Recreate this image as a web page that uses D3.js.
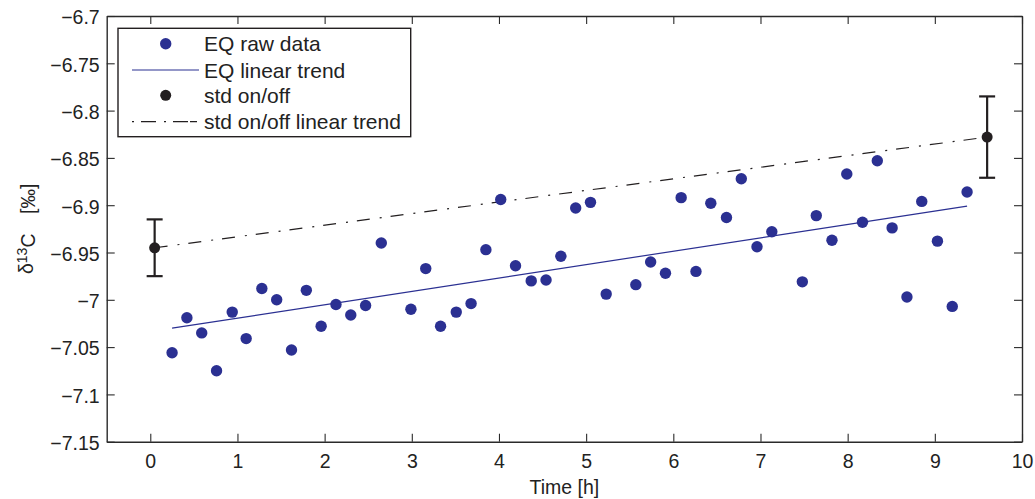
<!DOCTYPE html>
<html>
<head>
<meta charset="utf-8">
<script src="https://cdn.jsdelivr.net/npm/d3@7"></script>
<style>
  body { margin: 0; background: #fff; }
  svg { display: block; font-family: "Liberation Sans", Arial, sans-serif; }
</style>
</head>
<body>
<div id="chart"></div>
<script>
// EQ raw data: time [h] and delta 13C [permil]
const eqTime = [0.25, 0.42, 0.59, 0.76, 0.94, 1.10, 1.28, 1.45, 1.62, 1.79, 1.96, 2.13, 2.30, 2.47, 2.65,
                2.99, 3.16, 3.33, 3.51, 3.68, 3.85, 4.02, 4.19, 4.37, 4.54, 4.71, 4.88, 5.05, 5.23,
                5.57, 5.74, 5.91, 6.09, 6.26, 6.43, 6.61, 6.78, 6.96, 7.13,
                7.48, 7.64, 7.82, 7.99, 8.17, 8.34, 8.51, 8.68, 8.85, 9.03, 9.20, 9.37];
const eqDelta = [-7.056, -7.019, -7.035, -7.075, -7.013, -7.041, -6.988, -7.000, -7.053, -6.990, -7.028, -7.005, -7.016, -7.006, -6.940,
                 -7.010, -6.967, -7.028, -7.013, -7.004, -6.947, -6.894, -6.964, -6.980, -6.979, -6.954, -6.903, -6.897, -6.994,
                 -6.984, -6.960, -6.972, -6.892, -6.970, -6.898, -6.913, -6.872, -6.944, -6.928,
                 -6.981, -6.911, -6.937, -6.867, -6.918, -6.853, -6.924, -6.997, -6.896, -6.938, -7.007, -6.886];

// EQ linear trend end points
const eqTrendTime = [0.25, 9.37];
const eqTrendDelta = [-7.030, -6.901];

// std on/off with error bars
const stdTime = [0.05, 9.60];
const stdDelta = [-6.945, -6.828];
const stdErr = [0.030, 0.043];

// std on/off linear trend end points
const stdTrendTime = [0.05, 9.60];
const stdTrendDelta = [-6.945, -6.828];

const xTicks = [0, 1, 2, 3, 4, 5, 6, 7, 8, 9, 10];
const yTicks = [-7.15, -7.1, -7.05, -7, -6.95, -6.9, -6.85, -6.8, -6.75, -6.7];
const yTickLabels = ["\u22127.15", "\u22127.1", "\u22127.05", "\u22127", "\u22126.95", "\u22126.9", "\u22126.85", "\u22126.8", "\u22126.75", "\u22126.7"];

const legendLabels = ["EQ raw data", "EQ linear trend", "std on/off", "std on/off linear trend"];

const W = 1035, H = 499;
const margin = {top: 16, right: 13, bottom: 57.3, left: 106.7};
const blue = "#2b3092", dark = "#231f20", axisCol = "#2a2a2a";
const dashDot = "13,10,2,9";

const svg = d3.select("#chart").append("svg")
    .attr("width", W)
    .attr("height", H);

const x = d3.scaleLinear().domain([-0.5, 10]).range([margin.left, W - margin.right]);
const y = d3.scaleLinear().domain([-7.15, -6.7]).range([H - margin.bottom, margin.top]);

// axes (box with inward ticks)
svg.append("g")
    .attr("transform", `translate(0,${H - margin.bottom})`)
    .call(d3.axisBottom(x).tickValues(xTicks).tickSize(-8).tickSizeOuter(0).tickPadding(12.5).tickFormat(d3.format("d")));

svg.append("g")
    .attr("transform", `translate(0,${margin.top})`)
    .call(d3.axisTop(x).tickValues(xTicks).tickSize(-8).tickSizeOuter(0).tickFormat(""));

const yAxis = svg.append("g")
    .attr("transform", `translate(${margin.left},0)`)
    .call(d3.axisLeft(y).tickValues(yTicks).tickSize(-8).tickSizeOuter(0).tickPadding(7)
        .tickFormat((d, i) => yTickLabels[i]));

svg.append("g")
    .attr("transform", `translate(${W - margin.right},0)`)
    .call(d3.axisRight(y).tickValues(yTicks).tickSize(-8).tickSizeOuter(0).tickFormat(""));

svg.selectAll(".domain").attr("stroke", axisCol).attr("stroke-width", 1.4);
svg.selectAll(".tick line").attr("stroke", axisCol).attr("stroke-width", 1.1);
svg.selectAll(".tick text")
    .attr("fill", "#222")
    .style("font-size", "19.5px")
    .style("font-family", "'Liberation Sans', Arial, sans-serif");
yAxis.selectAll(".tick text").attr("dy", "0.4em");

// axis labels
svg.append("text")
    .attr("x", (margin.left + W - margin.right) / 2)
    .attr("y", 494)
    .attr("text-anchor", "middle")
    .attr("fill", "#222")
    .style("font-size", "19.5px")
    .text("Time [h]");

const yl = svg.append("text")
    .attr("transform", `translate(33,${(margin.top + H - margin.bottom) / 2}) rotate(-90)`)
    .attr("text-anchor", "middle")
    .attr("fill", "#222")
    .style("font-size", "19.5px");
yl.append("tspan").text("\u03b4");
yl.append("tspan").attr("dy", "-0.45em").style("font-size", "14px").text("13");
yl.append("tspan").attr("dy", "0.45em").text("C");
yl.append("tspan").attr("dx", "1em").text("[\u2030]");

// lines
const line = d3.line().x(d => x(d[0])).y(d => y(d[1]));

svg.append("path")
    .datum(d3.zip(stdTrendTime, stdTrendDelta))
    .attr("d", line)
    .attr("fill", "none")
    .attr("stroke", dark)
    .attr("stroke-width", 1.2)
    .attr("stroke-dasharray", dashDot);

svg.append("path")
    .datum(d3.zip(eqTrendTime, eqTrendDelta))
    .attr("d", line)
    .attr("fill", "none")
    .attr("stroke", blue)
    .attr("stroke-width", 1.2);

// EQ raw points
svg.append("g").selectAll("circle")
    .data(d3.zip(eqTime, eqDelta))
    .join("circle")
    .attr("cx", d => x(d[0]))
    .attr("cy", d => y(d[1]))
    .attr("r", 5.7)
    .attr("fill", blue);

// std points with error bars
const stdData = stdTime.map((t, i) => ({t: t, v: stdDelta[i], e: stdErr[i]}));
const eb = svg.append("g").selectAll("g")
    .data(stdData)
    .join("g")
    .attr("stroke", dark)
    .attr("stroke-width", 2.2);
eb.append("line")
    .attr("x1", d => x(d.t)).attr("x2", d => x(d.t))
    .attr("y1", d => y(d.v - d.e)).attr("y2", d => y(d.v + d.e));
eb.append("line")
    .attr("x1", d => x(d.t) - 8).attr("x2", d => x(d.t) + 8)
    .attr("y1", d => y(d.v + d.e)).attr("y2", d => y(d.v + d.e));
eb.append("line")
    .attr("x1", d => x(d.t) - 8).attr("x2", d => x(d.t) + 8)
    .attr("y1", d => y(d.v - d.e)).attr("y2", d => y(d.v - d.e));
eb.append("circle")
    .attr("cx", d => x(d.t))
    .attr("cy", d => y(d.v))
    .attr("r", 5.5)
    .attr("stroke", "none")
    .attr("fill", dark);

// legend
const lg = svg.append("g").attr("transform", "translate(118,28.3)");
lg.append("rect")
    .attr("width", 292.7)
    .attr("height", 108.4)
    .attr("fill", "#fff")
    .attr("stroke", dark)
    .attr("stroke-width", 1.4);

const rowY = [15.4, 41.7, 67, 93.4];
lg.append("circle").attr("cx", 47.7).attr("cy", rowY[0]).attr("r", 5.7).attr("fill", blue);
lg.append("line").attr("x1", 14).attr("x2", 81).attr("y1", rowY[1]).attr("y2", rowY[1])
    .attr("stroke", blue).attr("stroke-width", 1.2);
lg.append("circle").attr("cx", 47.7).attr("cy", rowY[2]).attr("r", 5.5).attr("fill", dark);
lg.append("line").attr("x1", 14).attr("x2", 81).attr("y1", rowY[3]).attr("y2", rowY[3])
    .attr("stroke", dark).attr("stroke-width", 1.2).attr("stroke-dasharray", "2,7,15,8,2,7,15");

lg.selectAll("text.lbl")
    .data(legendLabels)
    .join("text")
    .attr("class", "lbl")
    .attr("x", 86)
    .attr("y", (d, i) => rowY[i])
    .attr("dy", "0.36em")
    .attr("fill", "#222")
    .style("font-size", "21px")
    .text(d => d);
</script>
</body>
</html>
